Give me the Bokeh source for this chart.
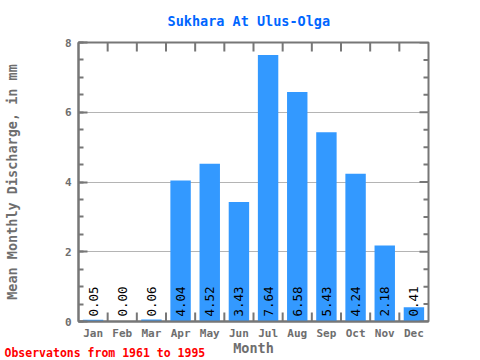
import math
from bokeh.plotting import figure
from bokeh.models import (Range1d, FixedTicker, SingleIntervalTicker,
                          ColumnDataSource, Title)
from bokeh.core.properties import value
from bokeh.embed import file_html
from bokeh.resources import INLINE

months = ["Jan", "Feb", "Mar", "Apr", "May", "Jun", "Jul", "Aug", "Sep", "Oct", "Nov", "Dec"]
discharge = [0.05, 0.00, 0.06, 4.04, 4.52, 3.43, 7.64, 6.58, 5.43, 4.24, 2.18, 0.41]
y_max = 8
y_major = [0, 2, 4, 6, 8]
y_minor = [0.5, 1, 1.5, 2.5, 3, 3.5, 4.5, 5, 5.5, 6.5, 7, 7.5]

title_text = "Sukhara At Ulus-Olga"
x_label = "Month"
y_label = "Mean Monthly Discharge, in mm"
footer_text = "Observatons from 1961 to 1995"

xs = list(range(1, len(months) + 1))
bounds = [i + 0.5 for i in range(1, len(months))]
texts = ["%.2f" % v for v in discharge]
x_lo, x_hi = 0.5, len(months) + 0.5

FONT = "DejaVu Sans Mono"
GREY = "#777777"
LABEL_GREY = "#6e6e6e"

src = ColumnDataSource(dict(x=xs, y=discharge, t=texts, y0=[0] * len(xs)))

p = figure(frame_width=350, frame_height=279,
           min_border_left=71, min_border_right=51, min_border_top=35, min_border_bottom=30,
           x_range=Range1d(x_lo, x_hi), y_range=Range1d(0, y_max),
           output_backend="svg", toolbar_location=None)
p.outline_line_color = GREY
p.outline_line_width = 2

p.title = Title(text=title_text, align="left", vertical_align="top", offset=89,
                text_font=FONT, text_font_style="bold",
                text_font_size="13.5px", text_color="#0066ff", standoff=24)

yticker = SingleIntervalTicker(interval=2, num_minor_ticks=4)
p.xgrid.grid_line_color = None
p.ygrid.ticker = yticker
p.ygrid.grid_line_color = "#b4b4b4"

p.vbar(x="x", top="y", width=0.7, source=src, fill_color="#3399ff", line_color=None)
p.text(x="x", y="y0", text="t", source=src, angle=math.pi / 2, text_align="left",
       text_baseline="middle", y_offset=-5, text_color="black",
       text_font=value(FONT), text_font_size="12.5px")

# boundary ticks on top / bottom, right-hand ticks
p.ray(x=bounds, y=[0] * len(bounds), length=9, length_units="screen", angle=math.pi / 2,
      line_color=GREY, line_width=2)
p.ray(x=bounds, y=[y_max] * len(bounds), length=9, length_units="screen", angle=-math.pi / 2,
      line_color=GREY, line_width=2)
p.ray(x=[x_hi] * len(y_major), y=y_major, length=9, length_units="screen", angle=math.pi,
      line_color=GREY, line_width=2)
p.ray(x=[x_hi] * len(y_minor), y=y_minor, length=5, length_units="screen", angle=math.pi,
      line_color=GREY, line_width=2)

ax = p.yaxis[0]
ax.ticker = yticker
ax.axis_line_color = GREY
ax.axis_line_width = 2
ax.major_tick_line_color = GREY
ax.major_tick_line_width = 2
ax.minor_tick_line_color = GREY
ax.minor_tick_line_width = 2
ax.major_tick_in = 9
ax.major_tick_out = 0
ax.minor_tick_in = 5
ax.minor_tick_out = 0
ax.major_label_text_font = FONT
ax.major_label_text_font_style = "bold"
ax.major_label_text_font_size = "11px"
ax.major_label_text_color = LABEL_GREY
ax.major_label_standoff = 7
ax.axis_label = y_label
ax.axis_label_text_font = FONT
ax.axis_label_text_font_style = "bold"
ax.axis_label_text_font_size = "13.5px"
ax.axis_label_text_color = LABEL_GREY
ax.axis_label_standoff = 42

bx = p.xaxis[0]
bx.ticker = FixedTicker(ticks=xs, minor_ticks=[])
bx.axis_line_color = GREY
bx.axis_line_width = 2
bx.major_tick_line_color = None
bx.minor_tick_line_color = None
bx.major_tick_out = 0
bx.major_tick_in = 0
bx.major_label_overrides = {x: m for x, m in zip(xs, months)}
bx.major_label_text_font = FONT
bx.major_label_text_font_style = "bold"
bx.major_label_text_font_size = "11px"
bx.major_label_text_color = LABEL_GREY
bx.major_label_standoff = 5
bx.axis_label = x_label
bx.axis_label_text_font = FONT
bx.axis_label_text_font_style = "bold"
bx.axis_label_text_font_size = "13.5px"
bx.axis_label_text_color = LABEL_GREY
bx.axis_label_standoff = -3

p.add_layout(Title(text=footer_text, align="left", vertical_align="top", offset=-74,
                   standoff=-26, text_font=FONT, text_font_style="bold",
                   text_font_size="11.5px", text_color="#ff0000"), "below")

open("out.html", "w").write(file_html(p, INLINE))
